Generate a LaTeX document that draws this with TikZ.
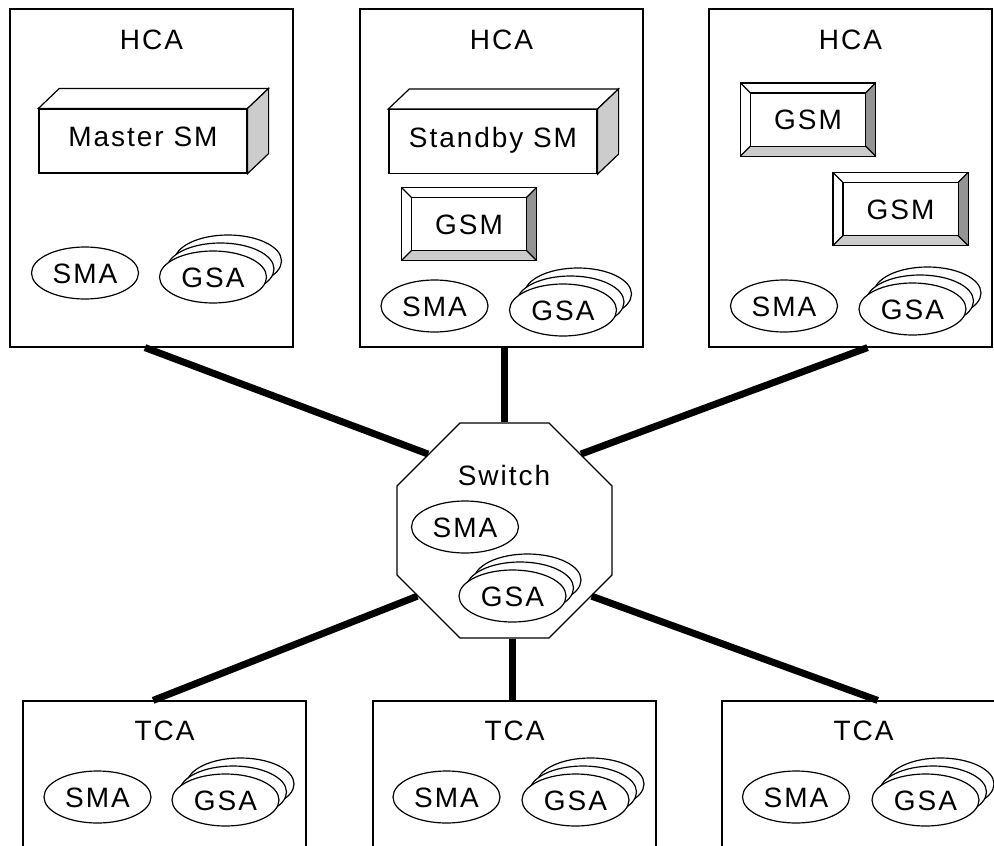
\documentclass[tikz,border=0pt]{standalone}
\usepackage{fontspec}
\setmainfont{Liberation Sans}[LetterSpace=7]
\usepackage{tikz}
\usetikzlibrary{shapes.geometric,calc,positioning}

% stacked GSA agents: name, position of the front one
\newcommand{\gsastack}[2]{%
  \node[agent] at ($(#2)+(15,-16)$) {};
  \node[agent] at ($(#2)+(7.5,-8)$) {};
  \node[agent] (#1) at (#2) {GSA};}

% bevelled GSM button
\newcommand{\gsmbutton}[2]{%
  \node[gsmbox] (#1) at (#2) {GSM};
  \fill[black!42] (#1.north east) -- (#1.south east) -- ($(#1.south east)+(-10,-10)$) -- ($(#1.north east)+(-10,10)$) -- cycle;
  \fill[black!20] (#1.south west) -- (#1.south east) -- ($(#1.south east)+(-10,-10)$) -- ($(#1.south west)+(10,-10)$) -- cycle;
  \draw (#1.north west) rectangle (#1.south east);
  \draw ($(#1.north west)+(10,10)$) rectangle ($(#1.south east)+(-10,-10)$);
  \foreach \c/\dx/\dy in {north west/10/10,north east/-10/10,south west/10/-10,south east/-10/-10}
    \draw (#1.\c) -- ++(\dx,\dy);}

% 3D box for an SM
\newcommand{\smbox}[3]{%
  \node[smface] (#1) at (#2) {#3};
  \draw[fill=white] (#1.north west) -- ($(#1.north west)+(21,-20)$) -- ($(#1.north east)+(21,-20)$) -- (#1.north east) -- cycle;
  \draw[fill=black!20] (#1.north east) -- ($(#1.north east)+(21,-20)$) -- ($(#1.south east)+(21,-20)$) -- (#1.south east) -- cycle;}

\begin{document}
\begin{tikzpicture}[x=1pt,y=-1pt,line width=1.2pt,every node/.style={font=\fontsize{28}{33}\selectfont}]
\tikzstyle{cabox}=[draw,minimum width=283,inner sep=0]
\tikzstyle{agent}=[draw,ellipse,fill=white,minimum width=107,minimum height=52,inner sep=0,text height=20pt,text depth=0pt]
\tikzstyle{gsmbox}=[fill=white,minimum width=134,minimum height=72,inner sep=0,text height=20pt,text depth=0pt]
\tikzstyle{smface}=[draw,fill=white,minimum width=208,minimum height=64,inner sep=0,text height=20pt,text depth=9pt]
\tikzstyle{link}=[line width=7pt]
\useasboundingbox (0,0) rectangle (994,846);
\clip (0,0) rectangle (994,846);

% host channel adapters
\node[cabox,minimum height=338] (hcaA) at (151.5,178) {};
\node[cabox,minimum height=338] (hcaB) at (501.5,178) {};
\node[cabox,minimum height=338] (hcaC) at (850.5,178) {};
\node at ($(hcaA.north)+(0,31.5)$) {HCA};
\node at ($(hcaB.north)+(0,31.5)$) {HCA};
\node at ($(hcaC.north)+(0,31.5)$) {HCA};

\smbox{master}{143,141}{Master SM}
\smbox{standby}{493,141.5}{Standby SM}
\gsmbutton{gsmB}{469,224}
\gsmbutton{gsmC}{808,119.5}
\gsmbutton{gsmD}{900.5,209}

\node[agent] (smaA) at (85,273) {SMA};
\gsastack{gsaA}{213,277}
\node[agent] (smaB) at (434.5,306) {SMA};
\gsastack{gsaB}{563,310}
\node[agent] (smaC) at (784,306) {SMA};
\gsastack{gsaC}{912.5,309}

% switch
\node[draw,fill=white,regular polygon,regular polygon sides=8,minimum size=232.7,inner sep=0] (sw) at (504.5,530.5) {};
\node (swlabel) at (504,475) {Switch};
\node[agent] (smaS) at (465,527) {SMA};
\gsastack{gsaS}{512.5,596}

% target channel adapters
\node[cabox,minimum height=200] (tcaA) at (164.5,801) {};
\node[cabox,minimum height=200] (tcaB) at (514.5,801) {};
\node[cabox,minimum height=200] (tcaC) at (863.5,801) {};
\node at ($(tcaA.north)+(0,30.5)$) {TCA};
\node at ($(tcaB.north)+(0,30.5)$) {TCA};
\node at ($(tcaC.north)+(0,30.5)$) {TCA};
\node[agent] (smaT) at (97.5,797) {SMA};
\gsastack{gsaT}{225.5,800}
\node[agent] (smaU) at (446.5,797) {SMA};
\gsastack{gsaU}{575.5,800}
\node[agent] (smaV) at (796,797) {SMA};
\gsastack{gsaV}{925.5,800}

% links
\coordinate (swb) at ($(sw.south)+(7.5,0)$);
\draw[link] ($(hcaA.south west)!0.477!(hcaA.south east)$) -- (sw.135);
\draw[link] (sw.north) -- (sw.north |- hcaB.south);
\draw[link] ($(hcaC.south west)!0.56!(hcaC.south east)$) -- (sw.45);
\draw[link] (sw.217.6) -- ($(tcaA.north west)!0.46!(tcaA.north east)$);
\draw[link] (swb) -- (swb |- tcaB.north);
\draw[link] (sw.323.6) -- ($(tcaC.north west)!0.55!(tcaC.north east)$);
\end{tikzpicture}
\end{document}
